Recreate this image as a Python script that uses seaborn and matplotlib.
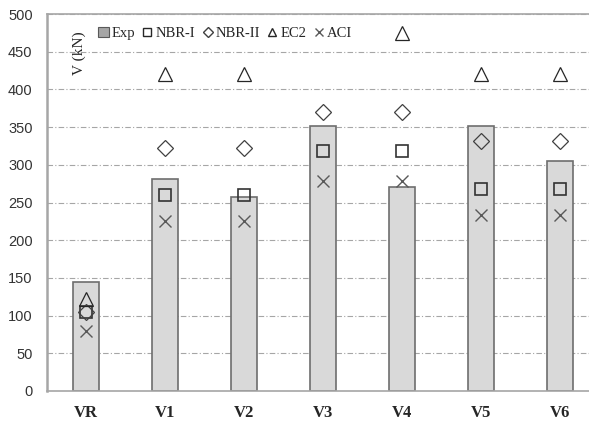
import numpy as np
import pandas as pd
import matplotlib.pyplot as plt
import seaborn as sns
from matplotlib.lines import Line2D
from matplotlib.patches import Patch

# dane
vigas = ['VR', 'V1', 'V2', 'V3', 'V4', 'V5', 'V6']
exp = [145, 281, 257, 352, 270, 352, 305]
nbr1 = [105, 260, 260, 318, 318, 268, 268]
nbr2 = [105, 322, 322, 370, 370, 332, 332]
ec2 = [122, 420, 420, np.nan, 475, 420, 420]
aci = [80, 226, 226, 279, 279, 233, 233]

sns.set_style('white')
plt.rcParams['font.family'] = ['DejaVu Sans']

fig = plt.figure(figsize=(5.89, 4.22), dpi=100)
ax = fig.add_axes([46.5 / 589, 31 / 422, 553 / 589, 377 / 422])

df = pd.DataFrame({'viga': vigas, 'Exp': exp})
sns.barplot(data=df, x='viga', y='Exp', order=vigas, color='#d9d9d9',
            edgecolor='#6e6e6e', linewidth=1.2, width=0.32, saturation=1, ax=ax)

series = [('NBR-I', nbr1, 's', 8.5, '#333333', 1.2),
          ('NBR-II', nbr2, 'D', 8, '#404040', 0.9),
          ('EC2', ec2, '^', 10, '#262626', 0.9),
          ('ACI', aci, 'x', 8, '#595959', 1.0)]
for nome, vals, mk, ms, cor, lw in series:
    sns.pointplot(x=vigas, y=vals, order=vigas, linestyle='none', marker=mk,
                  color=cor, markersize=ms, markerfacecolor='none',
                  markeredgewidth=lw, errorbar=None, ax=ax)

ax.set_ylim(0, 500)
ax.set_xlim(-0.5, 6.5)
ax.set_yticks(range(0, 501, 50))
ax.yaxis.grid(True, linestyle=(0, (5, 2, 1, 2)), color='#a6a6a6', linewidth=0.8)
ax.set_axisbelow(True)
ax.set_xlabel('')
ax.set_ylabel('')
ax.spines['right'].set_visible(False)
for s in ['top', 'left', 'bottom']:
    ax.spines[s].set_color('#a6a6a6')
    ax.spines[s].set_linewidth(1.2)
ax.spines['left'].set_linewidth(1.8)
ax.tick_params(axis='y', labelsize=10.5, colors='#333333', length=0, pad=10)
ax.tick_params(axis='x', length=0, pad=10)
for t in ax.get_yticklabels():
    t.set_fontfamily('Liberation Sans')
for t in ax.get_xticklabels():
    t.set_fontfamily('Liberation Serif')
    t.set_fontweight('bold')
    t.set_fontsize(12)
    t.set_color('#262626')

ax.text(0.06, 0.895, 'V (kN)', transform=ax.transAxes, rotation=90,
        ha='center', va='center', fontsize=11, family='Liberation Serif', color='#262626')

handles = [Patch(facecolor='#a6a6a6', edgecolor='#595959', linewidth=0.8),
           Line2D([], [], linestyle='none', marker='s', markersize=6, markerfacecolor='none', markeredgecolor='#262626'),
           Line2D([], [], linestyle='none', marker='D', markersize=5, markerfacecolor='none', markeredgecolor='#404040'),
           Line2D([], [], linestyle='none', marker='^', markersize=6, markerfacecolor='none', markeredgecolor='#262626'),
           Line2D([], [], linestyle='none', marker='x', markersize=6, markeredgecolor='#595959')]
ax.legend(handles, ['Exp', 'NBR-I', 'NBR-II', 'EC2', 'ACI'], loc='upper left',
          bbox_to_anchor=(0.07, 1.0), ncol=5, frameon=False, handlelength=0.7,
          handleheight=0.7, handletextpad=0.2, columnspacing=0.5,
          prop={'family': 'Liberation Serif', 'size': 10.5})

fig.savefig('out.png', dpi=100)
